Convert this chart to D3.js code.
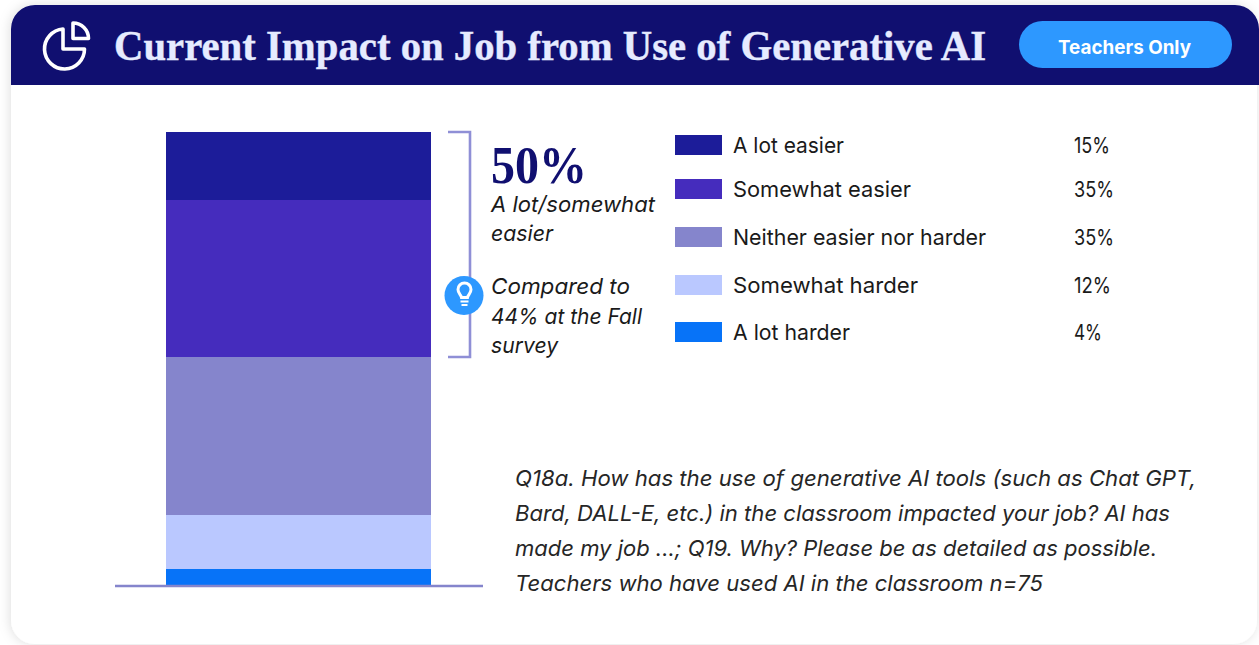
<!DOCTYPE html>
<html><head><meta charset="utf-8">
<script src="https://cdn.jsdelivr.net/npm/d3@7/dist/d3.min.js"></script>
<style>html,body{margin:0;padding:0;background:#fff;overflow:hidden}svg{display:block}</style>
</head><body><svg id="c" width="1259" height="645"></svg>
<script>
const categories=["A lot easier","Somewhat easier","Neither easier nor harder","Somewhat harder","A lot harder"];
const values=[15.1,35,35.2,12,3.6];
const labels=["15%","35%","35%","12%","4%"];
const colors=["#1c1c99","#452cbd","#8585cc","#bac8ff","#0773f8"];
const title="Current Impact on Job from Use of Generative AI";
const note=["Q18a. How has the use of generative AI tools (such as Chat GPT,","Bard, DALL-E, etc.) in the classroom impacted your job? AI has","made my job ...; Q19. Why? Please be as detailed as possible.","Teachers who have used AI in the classroom n=75"];
const callout=["A lot/somewhat","easier"];
const compare=["Compared to","44% at the Fall","survey"];
// layout
const legendY=[145,189,237,285,332];
const catW=[111,178,253,185,117], pctW=[36,40,40,37,28];
const noteW=[681,655,642,528], calloutW=[164,62], compareW=[139,151,67];

const sans="Inter, 'Open Sans', sans-serif", serif="'Liberation Serif', serif";
const svg=d3.select("#c");
const defs=svg.append("defs");
const f=defs.append("filter").attr("id","sh").attr("x","-5%").attr("y","-5%").attr("width","110%").attr("height","110%");
f.append("feDropShadow").attr("dx",-1).attr("dy",0).attr("stdDeviation",6).attr("flood-color","#000").attr("flood-opacity",0.13);

svg.append("rect").attr("width",1259).attr("height",645).attr("fill","#fff");
svg.append("rect").attr("x",11).attr("y",5).attr("width",1246).attr("height",639).attr("rx",24).attr("fill","#fff").attr("filter","url(#sh)");
defs.append("clipPath").attr("id","hdr").append("rect").attr("x",11).attr("y",5).attr("width",1248).attr("height",80);
svg.append("rect").attr("x",11).attr("y",5).attr("width",1248).attr("height",150).attr("rx",24).attr("fill","#100f70").attr("clip-path","url(#hdr)");

// header icon
const ic=svg.append("g").attr("fill","none").attr("stroke","#fff").attr("stroke-width",3.6).attr("stroke-linejoin","round").attr("stroke-linecap","round");
ic.append("path").attr("d","M63 29 A20 20 0 1 0 84.5 49 L63 49 Z");
ic.append("path").attr("d","M73 23 A15.5 15.5 0 0 1 88.5 38.5 L73 38.5 Z");

svg.append("text").attr("x",114).attr("y",60).attr("font-family",serif).attr("font-weight",700).attr("font-size",42).attr("fill","#e6ebff").attr("stroke","#e6ebff").attr("stroke-width",0.4).attr("textLength",872).attr("lengthAdjust","spacingAndGlyphs").text(title);

svg.append("rect").attr("x",1019).attr("y",21).attr("width",213).attr("height",47).attr("rx",23.5).attr("fill","#2d98ff");
svg.append("text").attr("x",1058).attr("y",54).attr("font-family",sans).attr("font-weight",700).attr("font-size",19).attr("fill","#fff").attr("textLength",133).attr("lengthAdjust","spacingAndGlyphs").text("Teachers Only");

// stacked bar
const total=d3.sum(values);
const y=d3.scaleLinear().domain([0,total]).rangeRound([132,585]);
const x=d3.scaleBand().domain(["all"]).range([166,431]);
const stack=d3.stack().keys(d3.range(values.length))([values]);
svg.append("g").selectAll("rect").data(stack).join("rect")
 .attr("x",x("all")).attr("width",x.bandwidth())
 .attr("y",d=>y(d[0][0])).attr("height",d=>y(d[0][1])-y(d[0][0]))
 .attr("fill",(d,i)=>colors[i]);
svg.append("line").attr("x1",115).attr("x2",483).attr("y1",586).attr("y2",586).attr("stroke","#8585cc").attr("stroke-width",2.4);

// bracket
const yb=y(values[0]+values[1]);
svg.append("path").attr("d",`M448 ${y(0)} H470 V${yb} H448`).attr("fill","none").attr("stroke","#8f8fd6").attr("stroke-width",2.6);
svg.append("circle").attr("cx",464).attr("cy",295.5).attr("r",19.5).attr("fill","#2d98ff");
const b=svg.append("g").attr("fill","none").attr("stroke","#fff");
b.append("path").attr("stroke-width",3).attr("d","M461.5 297.5 C461 294.5 458 293.5 458 289.5 A6.5 6.5 0 0 1 471 289.5 C471 293.5 468 294.5 467.5 297.5 Z");
b.append("path").attr("stroke-width",2.2).attr("d","M460.5 301.5 H468.5 M461.5 305 H467.5");

svg.append("text").attr("x",491).attr("y",183).attr("font-family",serif).attr("font-weight",700).attr("font-size",52).attr("fill","#100f70").attr("textLength",96).attr("lengthAdjust","spacingAndGlyphs").text("50%");
const it=(arr,w,x0,y0,dy,size,fill)=>svg.append("g").selectAll("text").data(arr).join("text")
 .attr("x",x0).attr("y",(d,i)=>y0+i*dy).attr("font-family",sans).attr("font-style","italic").attr("font-size",size).attr("fill",fill)
 .attr("textLength",(d,i)=>w[i]).attr("lengthAdjust","spacingAndGlyphs").text(d=>d);
it(callout,calloutW,491,212,29,22,"#1a1a1a");
it(compare,compareW,491,294,29.5,22,"#1a1a1a");
it(note,noteW,515,486,35,22,"#262626");

// legend
const lg=svg.append("g").selectAll("g").data(categories).join("g").attr("transform",(d,i)=>`translate(0,${legendY[i]})`);
lg.append("rect").attr("x",675).attr("y",-10).attr("width",47).attr("height",20).attr("fill",(d,i)=>colors[i]);
lg.append("text").attr("x",733).attr("y",8).attr("font-family",sans).attr("font-size",22).attr("fill","#1a1a1a").attr("textLength",(d,i)=>catW[i]).attr("lengthAdjust","spacingAndGlyphs").text(d=>d);
lg.append("text").attr("x",1074).attr("y",8).attr("font-family",sans).attr("font-size",22).attr("fill","#1a1a1a").attr("textLength",(d,i)=>pctW[i]).attr("lengthAdjust","spacingAndGlyphs").text((d,i)=>labels[i]);
</script></body></html>
